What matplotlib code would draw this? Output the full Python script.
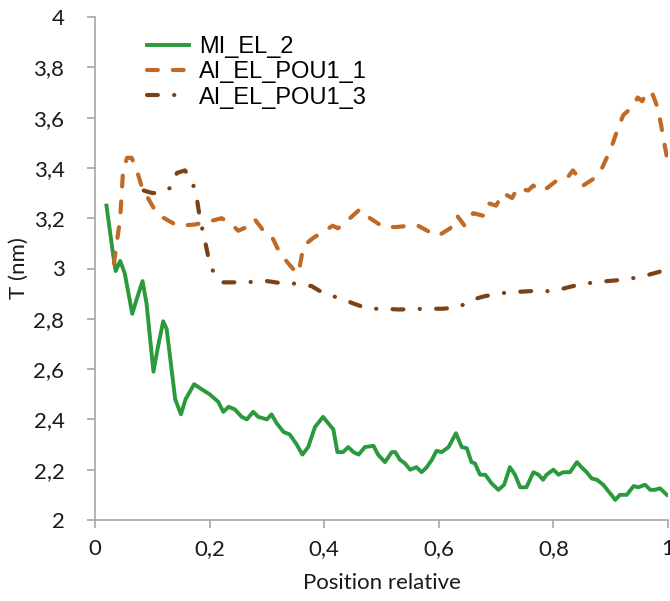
import matplotlib
matplotlib.use("Agg")
import matplotlib.pyplot as plt
from matplotlib.ticker import FuncFormatter, MultipleLocator

# thickness profiles T (nm) against relative position
mi_el_2_x = [.020, .032, .036, .044, .052, .065, .073, .083, .090, .102,
             .110, .119, .125, .140, .150, .158, .173, .186, .200, .215,
             .224, .233, .244, .256, .265, .276, .285, .300, .308, .317,
             .329, .340, .352, .362, .372, .384, .398, .407, .416, .423,
             .433, .442, .451, .460, .471, .486, .494, .506, .518, .524,
             .532, .541, .550, .561, .570, .579, .588, .596, .605, .617,
             .630, .640, .649, .657, .663, .672, .681, .692, .704, .714,
             .724, .733, .742, .753, .765, .774, .782, .788, .800, .809,
             .817, .829, .841, .849, .858, .867, .876, .887, .899, .908,
             .916, .928, .940, .948, .960, .969, .977, .986, .998]
mi_el_2_y = [3.25, 3.05, 2.99, 3.03, 2.98, 2.82, 2.88, 2.95, 2.86, 2.59,
             2.69, 2.79, 2.76, 2.48, 2.42, 2.48, 2.54, 2.52, 2.50, 2.47,
             2.43, 2.45, 2.44, 2.41, 2.40, 2.43, 2.41, 2.40, 2.42, 2.385,
             2.35, 2.34, 2.30, 2.26, 2.29, 2.37, 2.41, 2.385, 2.36, 2.27,
             2.27, 2.29, 2.27, 2.26, 2.29, 2.295, 2.26, 2.23, 2.27, 2.27,
             2.24, 2.225, 2.20, 2.21, 2.19, 2.21, 2.24, 2.275, 2.27, 2.29,
             2.345, 2.29, 2.285, 2.23, 2.225, 2.18, 2.18, 2.146, 2.12, 2.14,
             2.21, 2.18, 2.13, 2.13, 2.19, 2.18, 2.16, 2.18, 2.20, 2.18,
             2.19, 2.19, 2.23, 2.21, 2.19, 2.165, 2.16, 2.14, 2.106, 2.08,
             2.10, 2.10, 2.135, 2.13, 2.14, 2.12, 2.12, 2.126, 2.10]

pou1_1_x = [.033, .044, .049, .056, .064, .073, .081, .090, .105, .113,
            .140, .148, .175, .204, .221, .239, .250, .270, .279, .294,
            .308, .323, .332, .345, .355, .364, .380, .400, .415, .424,
            .445, .462, .480, .503, .527, .546, .564, .588, .598,
            .606, .620, .632, .645, .660, .677, .686, .700, .712, .728,
            .737, .756, .765, .773, .789, .806, .824, .834, .841, .852,
            .869, .885, .895, .904, .913, .922, .939, .947, .955, .962,
            .972, .981, .988, .995, 1.0]
pou1_1_y = [3.02, 3.20, 3.39, 3.44, 3.44, 3.39, 3.33, 3.29, 3.23, 3.21,
            3.175, 3.17, 3.175, 3.19, 3.20, 3.175, 3.15, 3.17, 3.195, 3.15,
            3.13, 3.06, 3.035, 3.00, 2.98, 3.09, 3.12, 3.15, 3.17, 3.16,
            3.20, 3.235, 3.20, 3.165, 3.165, 3.17, 3.17, 3.14, 3.13,
            3.14, 3.16, 3.21, 3.17, 3.22, 3.21, 3.26, 3.25, 3.30, 3.28,
            3.32, 3.31, 3.33, 3.31, 3.32, 3.35, 3.36, 3.39, 3.37, 3.33,
            3.355, 3.40, 3.45, 3.50, 3.56, 3.61, 3.645, 3.68, 3.665, 3.70,
            3.70, 3.645, 3.57, 3.48, 3.42]

pou1_3_x = [.085, .100, .113, .131, .143, .157, .169, .177, .183, .188,
            .192, .200, .210, .224, .260, .300, .330, .350, .378, .400,
            .430, .452, .477, .503, .530, .580, .606, .634, .657, .680,
            .720, .760, .800, .834, .870, .910, .950, .990, 1.0]
pou1_3_y = [3.31, 3.30, 3.30, 3.32, 3.38, 3.39, 3.35, 3.29, 3.20, 3.15,
            3.11, 3.02, 2.97, 2.945, 2.945, 2.95, 2.94, 2.94, 2.93, 2.90,
            2.88, 2.86, 2.84, 2.84, 2.837, 2.84, 2.84, 2.845, 2.875, 2.89,
            2.905, 2.91, 2.91, 2.93, 2.945, 2.953, 2.965, 2.99, 2.99]

labels = ["MI_EL_2", "AI_EL_POU1_1", "AI_EL_POU1_3"]

axis_grey = "#a6a6a6"
tick_font = "Lato"


def comma(v, pos):
    return f"{v:g}".replace(".", ",")


fig = plt.figure(figsize=(6.7, 6.01), dpi=100)
ax = fig.add_axes([95 / 670, 1 - 520 / 601, 573 / 670, 503 / 601])

ax.plot(mi_el_2_x, mi_el_2_y, color="#2a9a3c", lw=2.8,
        solid_joinstyle="round", label=labels[0])
ax.plot(pou1_1_x, pou1_1_y, color="#c06a28", lw=3.0,
        linestyle=(0, (2.6, 3.6)), dash_capstyle="round",
        dash_joinstyle="round", label=labels[1])
ax.plot(pou1_3_x, pou1_3_y, color="#7a4216", lw=3.0,
        linestyle=(0, (2.6, 3.9, 0.05, 3.9)), dash_capstyle="round",
        dash_joinstyle="round", label=labels[2])

ax.set_xlim(0, 1)
ax.set_ylim(2, 4)
ax.xaxis.set_major_locator(MultipleLocator(0.2))
ax.yaxis.set_major_locator(MultipleLocator(0.2))
ax.xaxis.set_major_formatter(FuncFormatter(comma))
ax.yaxis.set_major_formatter(FuncFormatter(comma))

for side in ("top", "right"):
    ax.spines[side].set_visible(False)
for side in ("left", "bottom"):
    ax.spines[side].set_color(axis_grey)
    ax.spines[side].set_linewidth(1.2)

ax.tick_params(axis="both", direction="out", length=6, width=1.2,
               color=axis_grey, labelsize=16, labelcolor="#1a1a1a")
ax.tick_params(axis="y", pad=16)
ax.tick_params(axis="x", pad=8)
for lab in ax.get_xticklabels() + ax.get_yticklabels():
    lab.set_fontfamily(tick_font)

ax.set_xlabel("Position relative", fontsize=16, family=tick_font,
              color="#1a1a1a", labelpad=10)
ax.set_ylabel("T (nm)", fontsize=16, family=tick_font,
              color="#1a1a1a", labelpad=3)

ax.legend(loc="upper left", bbox_to_anchor=(0.09, 0.962), frameon=False,
          prop={"family": "Liberation Sans", "size": 17},
          handlelength=1.8, handletextpad=0.42, labelspacing=0.14,
          borderpad=0, borderaxespad=0)

fig.savefig("out.png", dpi=100)
